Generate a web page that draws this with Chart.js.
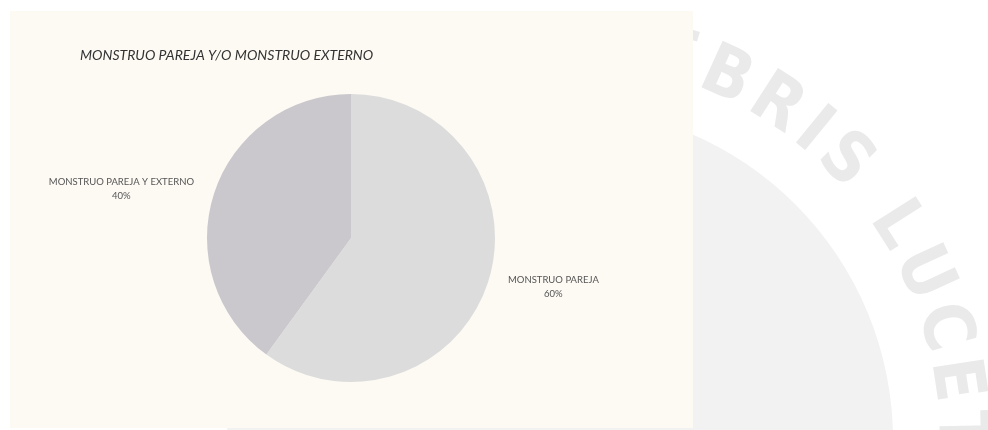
<!DOCTYPE html>
<html>
<head>
<meta charset="utf-8">
<script src="https://cdn.jsdelivr.net/npm/chart.js@4/dist/chart.umd.min.js"></script>
<style>
  html, body { margin: 0; padding: 0; background: #ffffff; }
  #page { position: relative; width: 988px; height: 430px; overflow: hidden; }
  #mark { position: absolute; left: 0; top: 0; }
  #box { position: absolute; left: 10px; top: 11px; width: 683px; height: 417px; background: #fdfaf4; }
</style>
</head>
<body>
<div id="page">
  <canvas id="mark" width="988" height="430"></canvas>
  <div id="box"><canvas id="pie"></canvas></div>
</div>
<script>
const title = 'MONSTRUO PAREJA Y/O MONSTRUO EXTERNO';
const labels = ['MONSTRUO PAREJA', 'MONSTRUO PAREJA Y EXTERNO'];
const values = [60, 40];
const colors = ['#dcdcdc', '#cac8cd'];

// faint seal watermark behind the chart
(function drawMark() {
  const ctx = document.getElementById('mark').getContext('2d');
  const cx = 560, cy = 440, R = 398;
  ctx.fillStyle = '#f2f2f2';
  ctx.beginPath();
  ctx.arc(cx, cy, 333, 0, Math.PI * 2);
  ctx.fill();
  const text = 'EBRIS LUCET';
  ctx.fillStyle = '#eaeaea';
  ctx.font = 'bold 70px "DejaVu Sans Condensed", "Liberation Sans Narrow", "Liberation Sans"';
  ctx.textAlign = 'center';
  ctx.textBaseline = 'middle';
  const gap = 9;
  const adv = [...text].map(ch => (ctx.measureText(ch).width + gap) / R);
  // centre of "B" (index 1) sits at -65.4 deg
  let a = -65.4 * Math.PI / 180 - adv[1] / 2 - adv[0];
  [...text].forEach((ch, i) => {
    const c = a + adv[i] / 2;
    if (ch !== ' ') {
      ctx.save();
      ctx.translate(cx + Math.cos(c) * R, cy + Math.sin(c) * R);
      ctx.rotate(c + Math.PI / 2);
      ctx.fillText(ch, 0, 0);
      ctx.restore();
    }
    a += adv[i];
  });
})();

const pieLabels = {
  id: 'pieLabels',
  afterDraw(chart) {
    const ctx = chart.ctx;
    ctx.save();
    ctx.fillStyle = '#333333';
    ctx.font = 'italic 14px Lato';
    ctx.textAlign = 'left';
    ctx.textBaseline = 'middle';
    ctx.fillText(title, 70, 44);

    const meta = chart.getDatasetMeta(0);
    const total = values.reduce((s, v) => s + v, 0);
    ctx.font = '9.5px Lato';
    ctx.fillStyle = '#555555';
    ctx.textAlign = 'center';
    meta.data.forEach((arc, i) => {
      const mid = (arc.startAngle + arc.endAngle) / 2;
      const r = arc.outerRadius;
      const pct = Math.round(values[i] / total * 100) + '%';
      const w = ctx.measureText(labels[i]).width;
      const right = Math.cos(mid) >= 0;
      const x = right ? arc.x + r + 13 + w / 2 : arc.x - r - 13 - w / 2;
      const y = arc.y + Math.sin(mid) * r * 1.1;
      ctx.fillText(labels[i], x, y - 7);
      ctx.fillText(pct, x, y + 7);
    });
    ctx.restore();
  }
};

new Chart(document.getElementById('pie'), {
  type: 'pie',
  data: {
    labels: labels,
    datasets: [{
      data: values,
      backgroundColor: colors,
      hoverBackgroundColor: colors,
      borderWidth: 0
    }]
  },
  options: {
    responsive: true,
    maintainAspectRatio: false,
    animation: false,
    layout: { padding: { top: 83, bottom: 46, left: 0, right: 1 } },
    plugins: {
      legend: { display: false },
      title: { display: false },
      tooltip: { enabled: false }
    }
  },
  plugins: [pieLabels]
});
</script>
</body>
</html>
